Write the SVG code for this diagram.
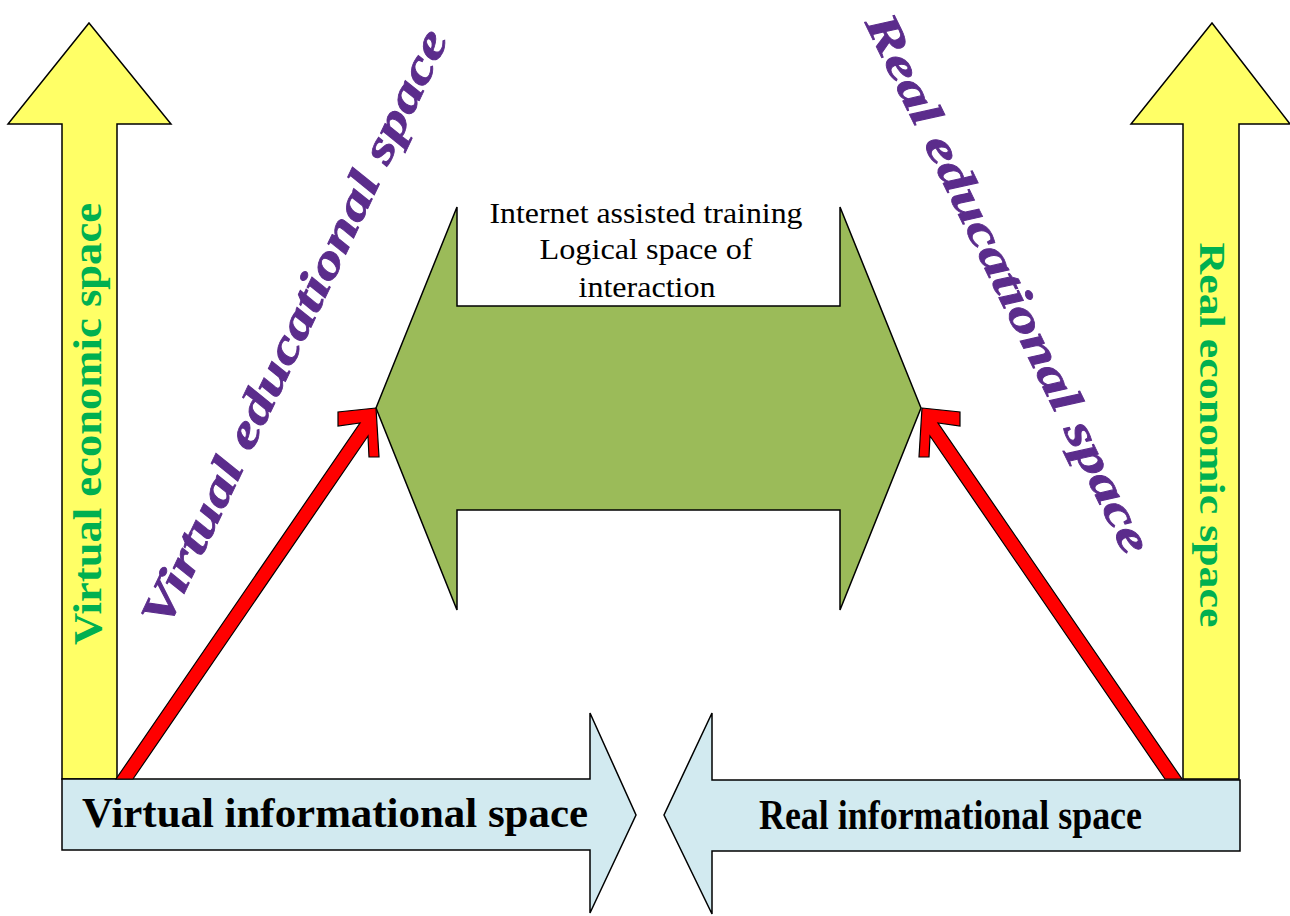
<svg xmlns="http://www.w3.org/2000/svg" width="1290" height="916" viewBox="0 0 1290 916">
<style>
.yel{fill:#FFFF66;stroke:#000;stroke-width:1.5;stroke-linejoin:miter}
.blu{fill:#D2EAF0;stroke:#000;stroke-width:1.5}
.grn{fill:#9BBB59;stroke:#000;stroke-width:1.5}
.red{fill:#FF0000;stroke:#000;stroke-width:1.2;stroke-linejoin:miter}
.eco{font-family:"Liberation Serif",serif;font-weight:bold;fill:#00B050}
.inf{font-family:"Liberation Serif",serif;font-weight:bold;fill:#000;font-size:43px}
.edu{font-family:"Liberation Serif",serif;font-weight:bold;font-style:italic;fill:#5B2C8C;stroke:#5B2C8C;stroke-width:0.8;font-size:46px}
.mid{font-family:"Liberation Serif",serif;fill:#000;font-size:30px;text-anchor:middle}
</style>
<rect width="1290" height="916" fill="#fff"/>
<g id="virtual-economic">
<polygon class="yel" points="89,23 171,124 117,124 117,779 62,779 62,124 8,124"/>
<text class="eco" font-size="40" transform="translate(101,424) rotate(-90)" text-anchor="middle" textLength="442" lengthAdjust="spacingAndGlyphs">Virtual economic space</text>
</g>
<g id="real-economic">
<polygon class="yel" points="1212,23 1290,124 1239,124 1239,779 1183,779 1183,124 1131,124"/>
<text class="eco" font-size="36" transform="translate(1200,435) rotate(90)" text-anchor="middle" textLength="385" lengthAdjust="spacingAndGlyphs">Real economic space</text>
</g>
<g id="virtual-informational">
<polygon class="blu" points="62,779 590,779 590,713 636,815 590,913 590,850 62,850"/>
<text class="inf" x="82" y="827" textLength="506" lengthAdjust="spacingAndGlyphs">Virtual informational space</text>
</g>
<g id="real-informational">
<polygon class="blu" points="1240,780 712,780 712,713 664,815 712,914 712,851 1240,851"/>
<text class="inf" x="759" y="829" textLength="383" lengthAdjust="spacingAndGlyphs">Real informational space</text>
</g>
<g id="interaction">
<polygon class="grn" points="376,408 457,207 457,306 840,306 840,207 921,408 840,610 840,510 457,510 457,610"/>
<text class="mid" x="646" y="223" textLength="313" lengthAdjust="spacingAndGlyphs">Internet assisted training</text>
<text class="mid" x="646" y="259" textLength="213" lengthAdjust="spacingAndGlyphs">Logical space of</text>
<text class="mid" x="647" y="297" textLength="137" lengthAdjust="spacingAndGlyphs">interaction</text>
</g>
<g id="virtual-educational">
<text class="edu" transform="translate(308,334) rotate(-64.5)" text-anchor="middle" textLength="655" lengthAdjust="spacingAndGlyphs">Virtual educational space</text>
</g>
<g id="real-educational">
<text class="edu" transform="translate(995,290) rotate(64)" text-anchor="middle" textLength="595" lengthAdjust="spacingAndGlyphs">Real educational space</text>
</g>
<g id="connectors">
<polygon id="arrow-left" class="red" points="376,408 338,412 338,426 360,423 116,779 133,779 368,436 369,457 379,457"/>
<polygon id="arrow-right" class="red" transform="translate(1298,0) scale(-1,1)" points="376,408 338,412 338,426 360,423 116,779 133,779 368,436 369,457 379,457"/>
</g>
</svg>
